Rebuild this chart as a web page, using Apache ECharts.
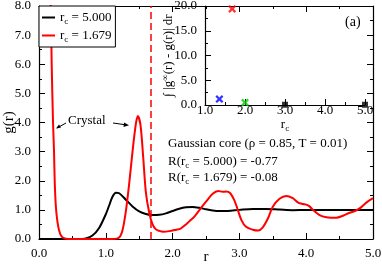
<!DOCTYPE html>
<html><head><meta charset="utf-8">
<script src="https://cdn.jsdelivr.net/npm/echarts@6/dist/echarts.min.js"></script>
<style>html,body{margin:0;padding:0;background:#fff;}#c{width:382px;height:264px;}</style>
</head><body><div id="c"></div>
<script>
// ---- data ----
const rBlack = [0.0,0.5,0.6,0.7,0.8,0.9,1.0,1.05,1.1,1.15,1.2,1.3,1.4,1.5,1.6,1.7,1.8,1.9,2.0,2.1,2.2,2.3,2.4,2.5,2.6,2.7,2.8,2.9,3.0,3.2,3.4,3.6,3.8,4.0,4.2,4.4,4.6,4.8,5.0];
const gBlack = [0.0,0.0,0.0,0.02,0.12,0.38,0.85,1.15,1.45,1.59,1.57,1.35,1.12,0.95,0.86,0.82,0.83,0.88,0.96,1.04,1.09,1.1,1.07,1.02,0.98,0.96,0.96,0.98,1.0,1.03,1.03,1.01,0.99,1.0,1.0,1.0,1.0,1.0,1.0];
const rRed = [0.16,0.18,0.19,0.21,0.225,0.235,0.25,0.27,0.3,0.34,0.4,0.5,1.1,1.2,1.25,1.3,1.35,1.4,1.45,1.48,1.52,1.56,1.6,1.65,1.7,1.75,1.8,1.86,1.95,2.05,2.12,2.2,2.27,2.33,2.41,2.5,2.6,2.68,2.75,2.8,2.86,2.92,2.96,3.03,3.1,3.2,3.28,3.35,3.43,3.5,3.6,3.7,3.8,3.88,3.95,4.0,4.05,4.1,4.2,4.3,4.45,4.55,4.65,4.73,4.8,4.9,5.0];
const gRed = [9.5,7.5,6.0,4.0,3.0,2.0,1.2,0.7,0.3,0.08,0.01,0.0,0.0,0.05,0.3,0.95,1.9,3.0,3.95,4.22,3.9,2.8,1.6,0.9,0.5,0.33,0.28,0.25,0.27,0.32,0.36,0.5,0.65,0.78,1.02,1.28,1.55,1.65,1.62,1.63,1.58,1.35,1.11,0.65,0.42,0.32,0.29,0.4,0.72,1.11,1.38,1.48,1.4,1.25,1.2,1.18,1.12,1.0,0.82,0.75,0.73,0.8,0.9,0.96,1.05,1.25,1.4];
const rcMark = 1.679;
const insetRc = [1.36, 1.679, 2.0, 3.0, 5.0];
const insetVal = [1.2, 19.4, 0.5, 0.05, 0.05];
const insetColor = ['#0000ff', '#ff0000', '#00cc00', '#000000', '#000000'];
const insetShape = ['x', 'x', 'x', 'sq', 'sq'];
const legendNames = ['5.000', '1.679'];

const FONT = '"Liberation Serif", "DejaVu Serif", serif';
const X_PATH = 'path://M2,0 L5,3 L8,0 L10,2 L7,5 L10,8 L8,10 L5,7 L2,10 L0,8 L3,5 L0,2 Z';

function fmt1(v){ return v.toFixed(1); }
const axisCommon = {
  nameMoveOverlap:false,
  axisLine:{show:true,onZero:false,lineStyle:{color:'#000',width:1.2}},
  axisTick:{show:true,inside:true,length:6,lineStyle:{color:'#000',width:1}},
  minorTick:{show:true,splitNumber:2,length:3,lineStyle:{color:'#000',width:1}},
  splitLine:{show:false},
  axisLabel:{color:'#000',fontFamily:FONT,fontSize:13}
};
function ax(extra){
  const o = JSON.parse(JSON.stringify(axisCommon));
  o.axisLabel.formatter = fmt1;
  if (extra.axisLabel) { Object.assign(o.axisLabel, extra.axisLabel); delete extra.axisLabel; }
  return Object.assign(o, extra);
}

const rich = {
  a:{fontFamily:FONT,fontSize:13,color:'#000',lineHeight:16},
  s:{fontFamily:FONT,fontSize:9,color:'#000',lineHeight:16,padding:[8,0,0,0]},
  p:{fontFamily:FONT,fontSize:9,color:'#000',lineHeight:16,padding:[0,0,6,0]}
};
function rcText(v){ return '{a|r}{s|c}{a| = ' + v + '}'; }

const chart = echarts.init(document.getElementById('c'), null, {renderer:'canvas'});
const insetData = insetRc.map((x,i)=>({
  value:[x, insetVal[i]],
  symbol: insetShape[i]==='x' ? X_PATH : 'rect',
  symbolSize: insetShape[i]==='x' ? 8 : 6,
  itemStyle:{color:insetColor[i]}
}));

chart.setOption({
  animation:false,
  backgroundColor:'#fff',
  grid:[
    {left:39, top:6, width:334, height:233, show:false, containLabel:false, outerBoundsMode:'none'},
    {left:205, top:6, width:160, height:99, show:false, containLabel:false, outerBoundsMode:'none'}
  ],
  legend:{
    data:legendNames,
    left:39, top:6, orient:'vertical',
    backgroundColor:'#fff', borderColor:'#000', borderWidth:1,
    padding:[3,4,3,3], itemGap:1, itemWidth:13, itemHeight:2,
    icon:'rect',
    textStyle:{rich:rich},
    formatter: n => rcText(n)
  },
  xAxis:[
    ax({gridIndex:0, type:'value', min:0, max:5, interval:1, position:'bottom',
        name:'r', nameLocation:'middle', nameGap:11,
        nameTextStyle:{fontFamily:FONT,fontSize:15,color:'#000'}}),
    ax({gridIndex:0, type:'value', min:0, max:5, interval:1, position:'top', axisLabel:{show:false}}),
    ax({gridIndex:1, type:'value', min:1, max:5, interval:1, position:'bottom',
        axisLabel:{margin:-1},
        name:'{a|r}{s|c}', nameLocation:'middle', nameGap:12,
        nameTextStyle:{rich:rich}})
  ],
  yAxis:[
    ax({gridIndex:0, type:'value', min:0, max:8, interval:1, position:'left',
        name:'g(r)', nameLocation:'middle', nameGap:22, nameRotate:90,
        nameTextStyle:{fontFamily:FONT,fontSize:15,color:'#000'}}),
    ax({gridIndex:0, type:'value', min:0, max:8, interval:1, position:'right', axisLabel:{show:false}}),
    ax({gridIndex:1, type:'value', min:0, max:20, interval:5, position:'left',
        name:'{a|∫ |g}{p|∞}{a|(r) - g(r)| dr}', nameLocation:'middle', nameGap:28, nameRotate:90,
        nameTextStyle:{rich:rich}})
  ],
  series:[
    {name:legendNames[0], type:'line', xAxisIndex:0, yAxisIndex:0, data:rBlack.map((r,i)=>[r,gBlack[i]]),
     showSymbol:false, smooth:0.3, lineStyle:{color:'#000',width:2}, itemStyle:{color:'#000'}},
    {name:legendNames[1], type:'line', xAxisIndex:0, yAxisIndex:0, data:rRed.map((r,i)=>[r,gRed[i]]),
     showSymbol:false, smooth:0.3, clip:true, lineStyle:{color:'#ff0000',width:2}, itemStyle:{color:'#ff0000'},
     markLine:{silent:true, symbol:['none','none'], label:{show:false},
       lineStyle:{color:'#ff0000',type:[7,4],width:1.5}, data:[{xAxis:rcMark}]}},
    {type:'scatter', xAxisIndex:2, yAxisIndex:2, data:insetData, clip:false}
  ],
  graphic:[
    {type:'text', left:345, top:15, style:{text:'(a)', font:'14px '+FONT, fill:'#000'}},
    {type:'text', left:168, top:137, style:{text:'Gaussian core (ρ = 0.85, T = 0.01)', font:'13px '+FONT, fill:'#000'}},
    {type:'text', left:168, top:153, style:{text:'{a|R(r}{s|c}{a| = 5.000) = -0.77}', rich:rich}},
    {type:'text', left:168, top:169, style:{text:'{a|R(r}{s|c}{a| = 1.679) = -0.08}', rich:rich}},
    {type:'text', left:68, top:114, style:{text:'Crystal', font:'13px '+FONT, fill:'#000'}},
    {type:'line', shape:{x1:66,y1:123,x2:57,y2:128}, style:{stroke:'#000',lineWidth:1}},
    {type:'polygon', shape:{points:[[56,128.5],[59,124.5],[61,127.5]]}, style:{fill:'#000'}},
    {type:'line', shape:{x1:113,y1:123,x2:127,y2:125}, style:{stroke:'#000',lineWidth:1}},
    {type:'polygon', shape:{points:[[129,125.3],[124,122.5],[123.5,127]]}, style:{fill:'#000'}}
  ]
});
</script></body></html>
